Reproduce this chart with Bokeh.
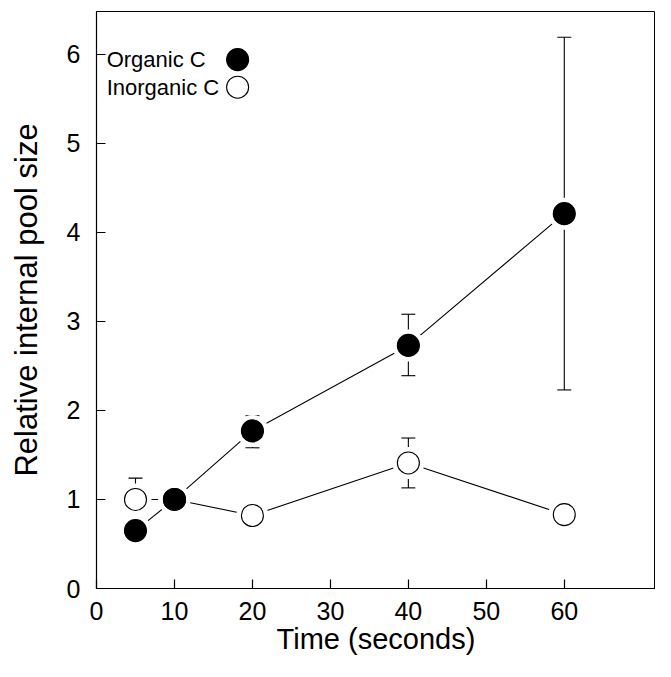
from bokeh.plotting import figure
from bokeh.models import Range1d, Whisker, TeeHead, ColumnDataSource, Label, FixedTicker
from bokeh.embed import file_html
from bokeh.resources import INLINE

FONT = "Liberation Sans"

time_s = [5, 10, 20, 40, 60]
organic = [0.65, 1.0, 1.77, 2.73, 4.21]
inorganic = [1.0, 1.0, 0.82, 1.41, 0.83]

# error bars (only points with visible bars)
org_err_x = [5, 20, 40, 60]
org_err_lo = [0.55, 1.58, 2.39, 2.23]
org_err_hi = [0.80, 1.94, 3.08, 6.19]
inorg_err_x = [5, 40, 60]
inorg_err_lo = [0.78, 1.13, 0.69]
inorg_err_hi = [1.24, 1.69, 0.96]

x_ticks = [0, 10, 20, 30, 40, 50, 60]
y_ticks = [0, 1, 2, 3, 4, 5, 6]

p = figure(width=655, height=661, output_backend="svg", toolbar_location=None,
           x_range=Range1d(0, 71.7), y_range=Range1d(0, 6.48),
           min_border_left=96, min_border_top=11, min_border_right=0, min_border_bottom=73)
p.grid.visible = False
p.outline_line_color = "black"
p.outline_line_width = 1
p.background_fill_color = "white"
p.border_fill_color = "white"

for ax in (p.xaxis, p.yaxis):
    ax.axis_line_color = "black"
    ax.axis_line_width = 1.2
    ax.major_tick_in = 9
    ax.major_tick_out = 0
    ax.minor_tick_line_color = None
    ax.major_tick_line_color = "black"
    ax.major_tick_line_width = 1.2
    ax.major_label_text_font = FONT
    ax.major_label_text_font_size = "25px"
    ax.major_label_text_color = "black"
    ax.axis_label_text_font = FONT
    ax.axis_label_text_font_style = "normal"
    ax.axis_label_text_color = "black"

p.xaxis.axis_label_text_font_size = "29px"
p.yaxis.axis_label_text_font_size = "31px"
p.xaxis.ticker = FixedTicker(ticks=x_ticks)
p.yaxis.ticker = FixedTicker(ticks=y_ticks)
p.xaxis.axis_label = "Time (seconds)"
p.yaxis.axis_label = "Relative internal pool size"
p.xaxis.major_label_standoff = 13
p.yaxis.major_label_standoff = 16
p.xaxis.axis_label_standoff = 0
p.yaxis.axis_label_standoff = 20

# connecting lines
p.line(time_s, organic, line_color="black", line_width=1.1)
p.line(time_s, inorganic, line_color="black", line_width=1.1)

# white halos to create gaps between lines and markers
p.scatter(time_s, organic, size=32, fill_color="white", line_color=None)
p.scatter(time_s, inorganic, size=32, fill_color="white", line_color=None)

# error bars
for xs, lo, hi in ((org_err_x, org_err_lo, org_err_hi), (inorg_err_x, inorg_err_lo, inorg_err_hi)):
    src = ColumnDataSource(dict(x=xs, lo=lo, hi=hi))
    w = Whisker(source=src, base="x", lower="lo", upper="hi", dimension="height",
                line_color="black", line_width=1.1,
                upper_head=TeeHead(size=14, line_color="black", line_width=1.1),
                lower_head=TeeHead(size=14, line_color="black", line_width=1.1))
    p.add_layout(w)

# markers
p.scatter(time_s, inorganic, size=22, fill_color="white", line_color="black", line_width=1.1)
p.scatter(time_s, organic, size=22, fill_color="black", line_color="black", line_width=1.1)

# legend (text left, marker right)
leg_labels = ["Organic C", "Inorganic C"]
leg_y = [5.94, 5.63]
leg_fill = ["black", "white"]
for lab, yy, fc in zip(leg_labels, leg_y, leg_fill):
    p.add_layout(Label(x=1.3, y=yy, text=lab, text_font=FONT, text_font_size="22px",
                       text_baseline="middle", text_align="left", text_color="black"))
    p.scatter([18.1], [yy], size=22, fill_color=fc, line_color="black", line_width=1.1)

open("out.html", "w").write(file_html(p, INLINE))
